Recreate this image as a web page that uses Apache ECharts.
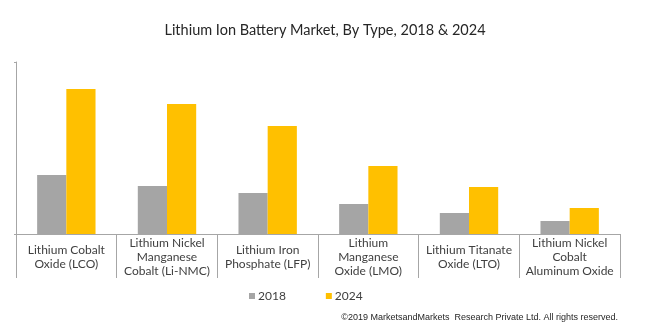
<!DOCTYPE html>
<html>
<head>
<meta charset="utf-8">
<script src="https://cdn.jsdelivr.net/npm/echarts@6/dist/echarts.min.js"></script>
<style>
  html, body { margin: 0; padding: 0; background: #ffffff; }
  #chart { width: 650px; height: 331px; }
</style>
</head>
<body>
<div id="chart"></div>
<script>
// Battery chemistries shown along the category axis
const categories = [
  'Lithium Cobalt\nOxide (LCO)',
  'Lithium Nickel\nManganese\nCobalt (Li-NMC)',
  'Lithium Iron\nPhosphate (LFP)',
  'Lithium\nManganese\nOxide (LMO)',
  'Lithium Titanate\nOxide (LTO)',
  'Lithium Nickel\nCobalt\nAluminum Oxide'
];
// Relative market size per chemistry (unlabelled value axis)
const values2018 = [59, 48, 41, 30, 21, 13];
const values2024 = [145, 130, 108, 68, 47, 26];
const seriesNames = ['2018', '2024'];
const valueMax = 172;

const FONT = 'Lato, "Liberation Sans", sans-serif';
const AXIS_COLOR = '#a6a6a6';

const chart = echarts.init(document.getElementById('chart'), null, { renderer: 'canvas' });

chart.setOption({
  animation: false,
  backgroundColor: '#ffffff',
  textStyle: { fontFamily: FONT },
  title: {
    text: 'Lithium Ion Battery Market, By Type, 2018 & 2024',
    left: 'center',
    top: 18,
    textStyle: { fontFamily: FONT, fontSize: 14.5, fontWeight: 'normal', color: '#262626' }
  },
  legend: {
    data: seriesNames,
    left: 244,
    top: 285,
    icon: 'rect',
    itemWidth: 6,
    itemHeight: 6,
    itemGap: 40,
    textStyle: { fontFamily: FONT, fontSize: 12, color: '#404040', padding: [0, 0, 0, -2] }
  },
  graphic: [{
    type: 'text',
    right: 32,
    top: 313,
    style: {
      text: '\u00a92019 MarketsandMarkets  Research Private Ltd. All rights reserved.',
      font: '9px Arial, "Liberation Sans", sans-serif',
      fill: '#262626'
    }
  }],
  grid: { left: 16, right: 30, top: 62, bottom: 97, containLabel: false },
  xAxis: {
    type: 'category',
    data: categories,
    boundaryGap: true,
    axisLine: { show: true, lineStyle: { color: AXIS_COLOR, width: 1 } },
    axisTick: { show: true, length: 44, alignWithLabel: false, lineStyle: { color: AXIS_COLOR } },
    axisLabel: {
      interval: 0,
      margin: 23,
      verticalAlign: 'middle',
      lineHeight: 14,
      fontFamily: FONT,
      fontSize: 12,
      color: '#404040'
    }
  },
  yAxis: {
    type: 'value',
    min: 0,
    max: valueMax,
    interval: valueMax,
    axisLine: { show: true, lineStyle: { color: AXIS_COLOR, width: 1 } },
    axisTick: { show: true, length: 2, lineStyle: { color: AXIS_COLOR } },
    axisLabel: { show: false },
    splitLine: { show: false }
  },
  series: [
    {
      name: seriesNames[0],
      type: 'bar',
      data: values2018,
      barGap: '0%',
      barCategoryGap: '42%',
      itemStyle: { color: '#a5a5a5' }
    },
    {
      name: seriesNames[1],
      type: 'bar',
      data: values2024,
      barGap: '0%',
      barCategoryGap: '42%',
      itemStyle: { color: '#ffc000' }
    }
  ]
});
</script>
</body>
</html>
